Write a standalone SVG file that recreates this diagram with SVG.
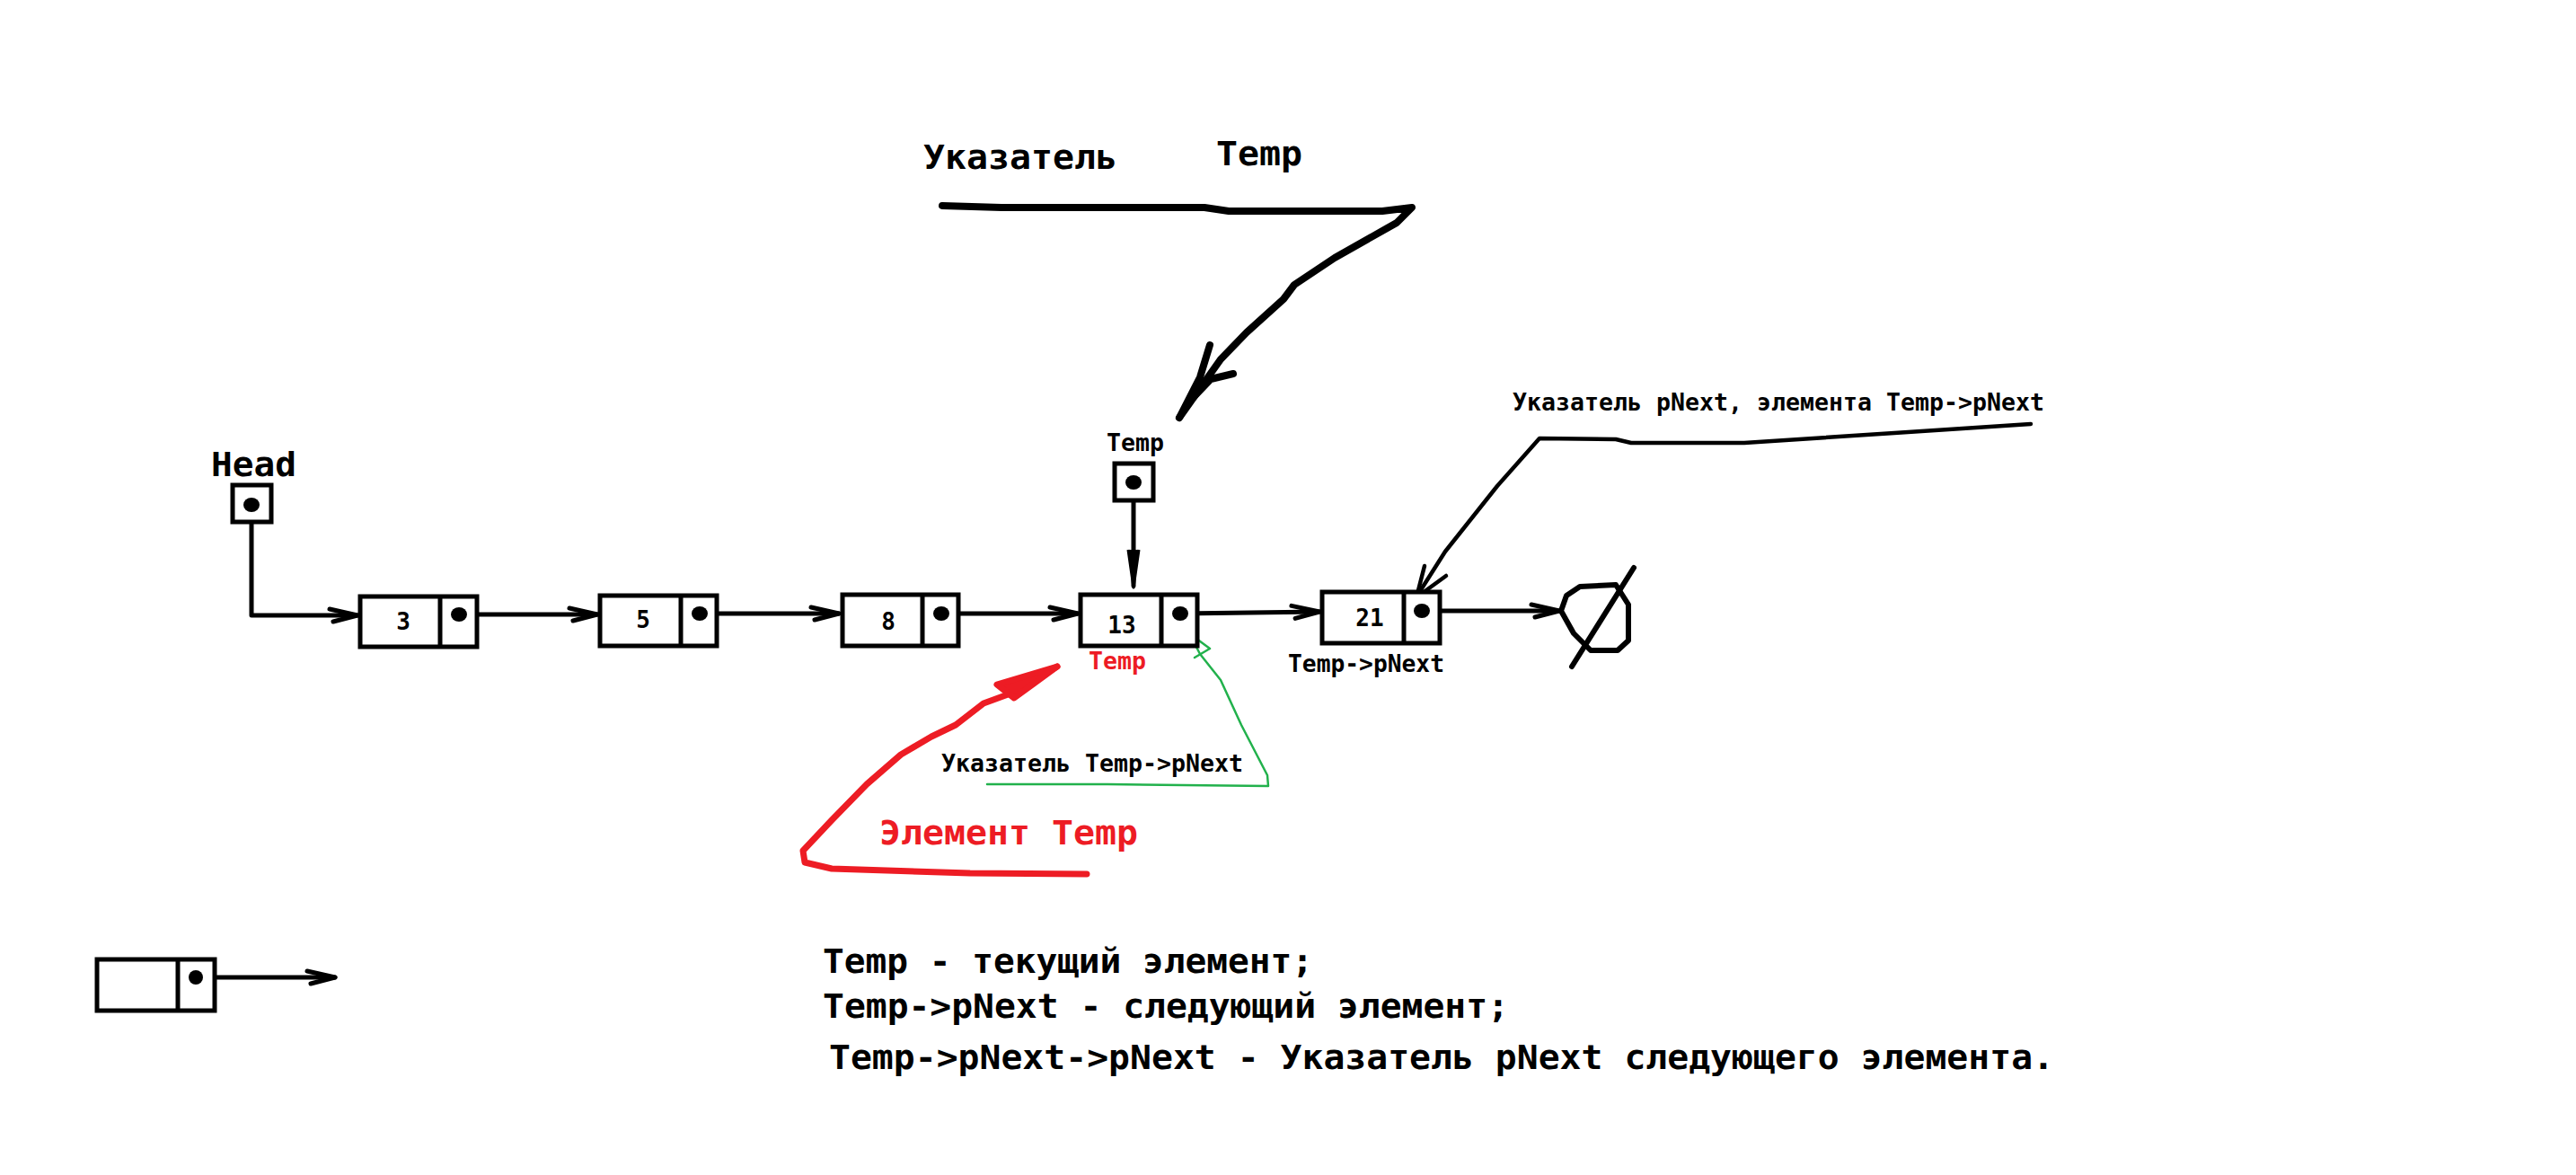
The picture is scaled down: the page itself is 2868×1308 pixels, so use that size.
<svg xmlns="http://www.w3.org/2000/svg" width="2868" height="1308" viewBox="0 0 2868 1308">
<style>
  .box{fill:#fff;stroke:#000;stroke-width:5}
  .div{stroke:#000;stroke-width:5}
  .dot{fill:#000}
  .ln{fill:none;stroke:#000;stroke-width:5;stroke-linecap:round;stroke-linejoin:round}
  .big{font-family:"DejaVu Sans Mono","Liberation Mono",monospace;font-weight:bold;font-size:38px;fill:#000}
  .sm{font-family:"DejaVu Sans Mono","Liberation Mono",monospace;font-weight:bold;font-size:26px;fill:#000}
  .num{font-family:"DejaVu Sans Mono","Liberation Mono",monospace;font-weight:bold;font-size:26px;fill:#000;text-anchor:middle}
  .red{fill:#ED1C24}
</style>
<defs>
  <marker id="chev" markerUnits="userSpaceOnUse" markerWidth="40" markerHeight="24" viewBox="-3 -3 40 22" refX="31" refY="7" orient="auto">
    <path d="M0,0 L31,7 L4,14" fill="none" stroke="#000" stroke-width="5" stroke-linecap="round" stroke-linejoin="round"/>
  </marker>
</defs>
<rect width="2868" height="1308" fill="#fff"/>

<g id="connectors">
  <path class="ln" d="M280,562 L280,685 L398,685" marker-end="url(#chev)"/>
  <path class="ln" d="M511,684 L665,684" marker-end="url(#chev)"/>
  <path class="ln" d="M779,683 L934,683" marker-end="url(#chev)"/>
  <path class="ln" d="M1048,683 L1200,683" marker-end="url(#chev)"/>
  <path class="ln" d="M1314,683 L1469,681" marker-end="url(#chev)"/>
  <path class="ln" d="M1583,680 L1736,680" marker-end="url(#chev)"/>
  <path class="ln" d="M218,1088 L373,1088" marker-end="url(#chev)"/>
  <!-- Temp pointer down -->
  <path class="ln" d="M1262,537 L1262,652"/>
  <path d="M1256,612 L1262,654 L1268,612" fill="#000" stroke="#000" stroke-width="3" stroke-linejoin="round"/>
  <!-- big hand-drawn pointer from top label -->
  <path d="M1049,229 L1115,231 L1341,231 L1368,235 L1539,235 L1572,231 L1555,248 L1486,287 L1441,317 L1429,333 L1388,370 L1359,400 L1313,465" fill="none" stroke="#000" stroke-width="8" stroke-linecap="round" stroke-linejoin="round"/>
  <path d="M1347,384 L1336,420 L1313,465 M1373,416 L1348,422 L1328,443" fill="none" stroke="#000" stroke-width="8" stroke-linecap="round" stroke-linejoin="round"/>
  <!-- pNext pointer -->
  <path d="M2261,472 L2109,482 L1942,493 L1816,493 L1799,489 L1714,488 L1667,541 L1609,614 L1576,666" fill="none" stroke="#000" stroke-width="4.5" stroke-linecap="round" stroke-linejoin="round"/>
  <path d="M1586,630 L1577,665 L1610,641" fill="none" stroke="#000" stroke-width="4.5" stroke-linecap="round" stroke-linejoin="round"/>
  <!-- red arrow -->
  <path d="M1210,973 L1080,972 L926,967 L896,960 L894,947 L926,913 L965,873 L1003,840 L1037,820 L1064,807 L1095,783 L1125,772 L1177,742" fill="none" stroke="#ED1C24" stroke-width="7" stroke-linecap="round" stroke-linejoin="round"/>
  <path d="M1110,762 L1177,742 L1129,777 Z" fill="#ED1C24" stroke="#ED1C24" stroke-width="7" stroke-linejoin="round"/>
  <!-- green pointer -->
  <path d="M1099,873 L1233,873 L1412,875 L1411,863 L1382,807 L1359,757 L1336,728 L1324,705 L1347,722 L1330,732" fill="none" stroke="#22B14C" stroke-width="2.5" stroke-linecap="round" stroke-linejoin="round"/>
</g>

<g id="head">
  <text class="big" x="235" y="530" textLength="95" lengthAdjust="spacingAndGlyphs">Head</text>
  <rect class="box" x="259" y="540" width="43" height="41"/>
  <ellipse class="dot" cx="280" cy="562" rx="9" ry="8"/>
</g>

<g id="node3">
  <rect class="box" x="401" y="664" width="130" height="56"/>
  <line class="div" x1="490" y1="664" x2="490" y2="720"/>
  <text class="num" x="449" y="701">3</text>
  <ellipse class="dot" cx="511" cy="684" rx="9" ry="8"/>
</g>
<g id="node5">
  <rect class="box" x="668" y="663" width="130" height="56"/>
  <line class="div" x1="758" y1="663" x2="758" y2="719"/>
  <text class="num" x="716" y="699">5</text>
  <ellipse class="dot" cx="779" cy="683" rx="9" ry="8"/>
</g>
<g id="node8">
  <rect class="box" x="938" y="662" width="129" height="57"/>
  <line class="div" x1="1027" y1="662" x2="1027" y2="719"/>
  <text class="num" x="989" y="701">8</text>
  <ellipse class="dot" cx="1048" cy="683" rx="9" ry="8"/>
</g>
<g id="node13">
  <rect class="box" x="1203" y="662" width="130" height="57"/>
  <line class="div" x1="1293" y1="662" x2="1293" y2="719"/>
  <text class="num" x="1249" y="705">13</text>
  <ellipse class="dot" cx="1314" cy="683" rx="9" ry="8"/>
  <text class="sm red" x="1212" y="745" textLength="64" lengthAdjust="spacingAndGlyphs">Temp</text>
</g>
<g id="node21">
  <rect class="box" x="1472" y="659" width="131" height="57"/>
  <line class="div" x1="1563" y1="659" x2="1563" y2="716"/>
  <text class="num" x="1525" y="697">21</text>
  <ellipse class="dot" cx="1583" cy="680" rx="9" ry="8"/>
  <text class="sm" x="1434" y="748" textLength="174" lengthAdjust="spacingAndGlyphs">Temp-&gt;pNext</text>
</g>
<g id="null">
  <path d="M1759,653 L1799,651 L1813,673 L1813,713 L1801,724 L1771,724 L1752,705 L1738,680 L1744,663 Z" fill="none" stroke="#000" stroke-width="6" stroke-linejoin="round"/>
  <line x1="1819" y1="632" x2="1750" y2="742" stroke="#000" stroke-width="6" stroke-linecap="round"/>
</g>
<g id="tempPtr">
  <text class="sm" x="1232" y="502" textLength="64" lengthAdjust="spacingAndGlyphs">Temp</text>
  <rect class="box" x="1241" y="516" width="43" height="41"/>
  <ellipse class="dot" cx="1262" cy="537" rx="9" ry="8"/>
</g>
<g id="legendNode">
  <rect class="box" x="108" y="1068" width="131" height="57"/>
  <line class="div" x1="198" y1="1068" x2="198" y2="1125"/>
  <ellipse class="dot" cx="218" cy="1088" rx="8" ry="8"/>
</g>

<g id="labels">
  <text class="big" x="1028" y="188" textLength="216" lengthAdjust="spacingAndGlyphs">Указатель</text>
  <text class="big" x="1354" y="184" textLength="96" lengthAdjust="spacingAndGlyphs">Temp</text>
  <text class="sm" x="1684" y="457" textLength="592" lengthAdjust="spacingAndGlyphs">Указатель pNext, элемента Temp-&gt;pNext</text>
  <text class="sm" x="1048" y="859" textLength="336" lengthAdjust="spacingAndGlyphs">Указатель Temp-&gt;pNext</text>
  <text class="big red" x="979" y="940" textLength="288" lengthAdjust="spacingAndGlyphs">Элемент Temp</text>
  <text class="big" x="916" y="1083" textLength="546" lengthAdjust="spacingAndGlyphs">Temp - текущий элемент;</text>
  <text class="big" x="916" y="1133" textLength="764" lengthAdjust="spacingAndGlyphs">Temp-&gt;pNext - следующий элемент;</text>
  <text class="big" x="923" y="1190" textLength="1364" lengthAdjust="spacingAndGlyphs">Temp-&gt;pNext-&gt;pNext - Указатель pNext следующего элемента.</text>
</g>
</svg>
